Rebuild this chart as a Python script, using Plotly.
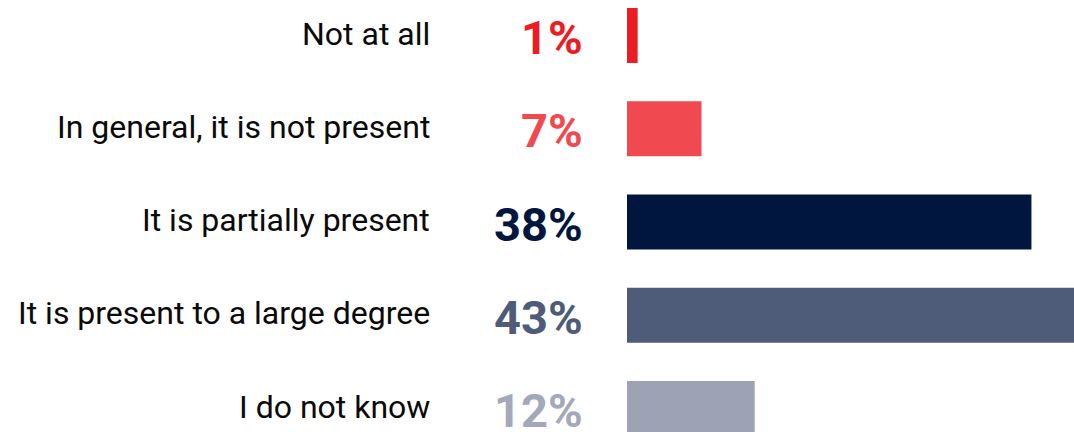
import plotly.graph_objects as go

categories = ["Not at all", "In general, it is not present", "It is partially present",
              "It is present to a large degree", "I do not know"]
values = [1, 7, 38, 43, 12]
labels = ["1%", "7%", "38%", "43%", "12%"]
bar_colors = ["#ED1C24", "#F04A50", "#00163F", "#4E5B79", "#9DA2B5"]
text_colors = ["#ED1C24", "#F04A50", "#00163F", "#4E5B79", "#A3A8BA"]

fig = go.Figure(go.Bar(
    x=values, y=categories, orientation="h",
    marker=dict(color=bar_colors, line=dict(width=0)),
    width=0.59, hoverinfo="skip",
))

ann = []
for c, lab, tc in zip(categories, labels, text_colors):
    ann.append(dict(x=0, xref="paper", y=c, yref="y", text=c, showarrow=False,
                    xanchor="right", yanchor="middle", xshift=-195, yshift=2,
                    font=dict(family="Roboto", size=32, color="#0a0a0a")))
    ann.append(dict(x=0, xref="paper", y=c, yref="y", text="<b>" + lab + "</b>", showarrow=False,
                    xanchor="right", yanchor="middle", xshift=-42, yshift=-2,
                    font=dict(family="Roboto", size=47, color=tc)))

fig.update_layout(
    width=1074, height=432,
    margin=dict(l=627, r=0, t=0, b=0),
    paper_bgcolor="white", plot_bgcolor="white",
    showlegend=False,
    xaxis=dict(range=[0, 42.0], showgrid=False, zeroline=False, showticklabels=False, fixedrange=True),
    yaxis=dict(range=[4.252, -0.381], showgrid=False, zeroline=False, showticklabels=False, fixedrange=True),
    annotations=ann,
)

fig.write_html("out.html", config={"displayModeBar": False})
